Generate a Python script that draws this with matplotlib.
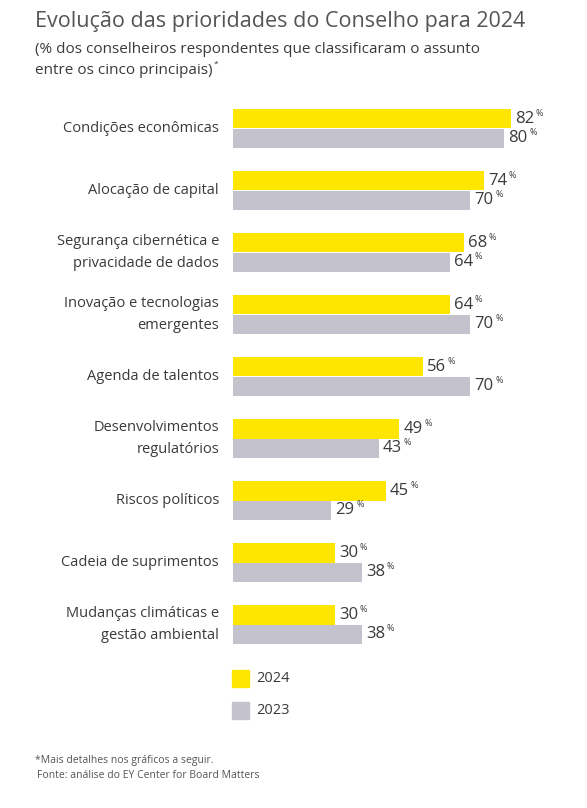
import matplotlib.pyplot as plt
import numpy as np

categories = ['Condições econômicas', 'Alocação de capital',
              'Segurança cibernética e\nprivacidade de dados',
              'Inovação e tecnologias\nemergentes', 'Agenda de talentos',
              'Desenvolvimentos\nregulatórios', 'Riscos políticos',
              'Cadeia de suprimentos', 'Mudanças climáticas e\ngestão ambiental']
v2024 = [82, 74, 68, 64, 56, 49, 45, 30, 30]
v2023 = [80, 70, 64, 70, 70, 43, 29, 38, 38]

YEL = '#FFE600'
GRY = '#C4C3CD'
TXT = '#3a3a3a'
plt.rcParams['font.family'] = ['Open Sans', 'DejaVu Sans']

W, H = 587, 808
fig = plt.figure(figsize=(W / 100, H / 100), dpi=100)
ax = fig.add_axes([233 / W, 1 - 655.5 / H, 339 / W, 558 / H])
y = np.arange(len(categories))
bh = 0.32
ax.barh(y - bh / 2, v2024, height=bh, color=YEL)
ax.barh(y + bh / 2, v2023, height=bh, color=GRY)
ax.set_xlim(0, 100)
ax.set_ylim(len(categories) - 0.5, -0.5)
ax.axis('off')

for i, (a, b) in enumerate(zip(v2024, v2023)):
    for v, yy in ((a, i - bh / 2), (b, i + bh / 2)):
        ax.annotate(str(v), xy=(v, yy), xytext=(3, 0), textcoords='offset points',
                    ha='left', va='center', fontsize=12, color=TXT)
        ax.annotate('%', xy=(v, yy), xytext=(18, 4), textcoords='offset points',
                    ha='left', va='center', fontsize=6.5, color=TXT)
    ax.annotate(categories[i], xy=(0, i), xytext=(-10, 0), textcoords='offset points',
                ha='right', va='center', fontsize=10.5, color=TXT, linespacing=1.6)

fig.text(35 / W, 1 - 22 / H, 'Evolução das prioridades do Conselho para 2024',
         fontsize=15.5, color='#555555', va='center')
fig.text(35 / W, 1 - 60 / H,
         '(% dos conselheiros respondentes que classificaram o assunto\nentre os cinco principais)',
         fontsize=11, color=TXT, va='center', linespacing=1.5)
fig.text(214 / W, 1 - 64 / H, '*', fontsize=6, color=TXT, va='center')

for yc, c, lab in ((679, YEL, '2024'), (711, GRY, '2023')):
    fig.patches.append(plt.Rectangle((232 / W, 1 - (yc + 8) / H), 17 / W, 17 / H,
                                     transform=fig.transFigure, color=c))
    fig.text(256 / W, 1 - yc / H, lab, fontsize=10.5, color=TXT, va='center')

fig.text(35 / W, 1 - 760 / H, '*Mais detalhes nos gráficos a seguir.', fontsize=7.5, color='#555555', va='center')
fig.text(37 / W, 1 - 776 / H, 'Fonte: análise do EY Center for Board Matters', fontsize=7.5, color='#555555', va='center')

fig.savefig('out.png', dpi=100, facecolor='white')
